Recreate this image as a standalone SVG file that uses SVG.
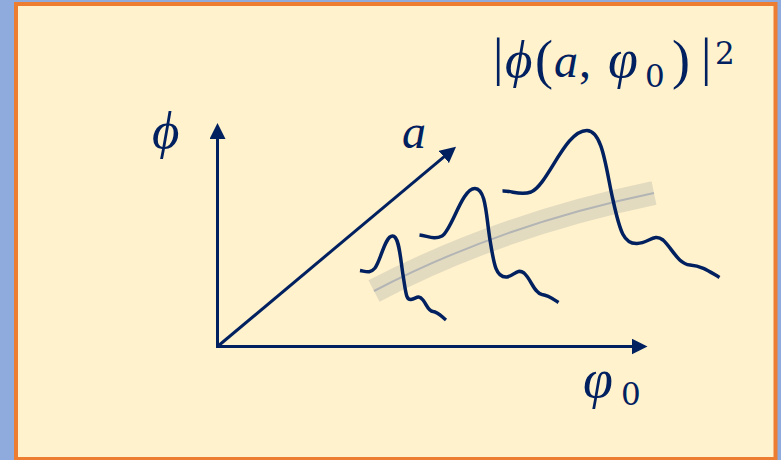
<svg xmlns="http://www.w3.org/2000/svg" width="781" height="460" viewBox="0 0 781 460">
  <style>
    .ax { stroke: #002060; stroke-width: 3; fill: none; }
    .wave { stroke: #002060; stroke-width: 3.5; fill: none; stroke-linejoin: round; }
    .var { font-family: "Liberation Serif", serif; font-style: italic; fill: #002060; font-size: 48px; }
    .big { font-size: 53px; }
    .vphi { font-size: 54px; }
    .up { font-family: "Liberation Serif", serif; fill: #002060; }
    .dig { font-family: "DejaVu Serif", "Liberation Serif", serif; fill: #002060; font-size: 31px; }
  </style>
  <defs>
    <marker id="arr" markerUnits="userSpaceOnUse" markerWidth="16" markerHeight="16" refX="8" refY="8" orient="auto" viewBox="0 0 16 16">
      <path d="M0,0 L16,8 L0,16 z" fill="#002060"/>
    </marker>
  </defs>
  <rect x="0" y="0" width="781" height="460" fill="#8faadc"/>
  <rect x="16" y="4" width="759.5" height="455" fill="#fff2cc" stroke="#ed7d31" stroke-width="4"/>

  <g id="band">
    <path d="M374,291 Q500,225 654,193" stroke="#e3dbc0" stroke-width="24" fill="none"/>
    <path d="M374,291 Q500,225 654,193" stroke="#b3b5b5" stroke-width="2" fill="none"/>
  </g>

  <g id="axes">
    <line class="ax" x1="217.5" y1="348" x2="217.5" y2="131" marker-end="url(#arr)"/>
    <line class="ax" x1="216" y1="346.5" x2="639.5" y2="346.5" marker-end="url(#arr)"/>
    <line class="ax" x1="217.5" y1="346.5" x2="449.9" y2="151.8" marker-end="url(#arr)"/>
  </g>

  <g id="packet1">
    <path class="wave" d="M360,270.5 C366,271.5 370,274 375,268 C381,260 385,236 392.5,236 C399,236 400,255 403,275 C406,293 406,300 411,299.5 C416,299 418,294 423,300 C427,305 428,311 433,311.5 C438,312 441,316 446,320"/>
  </g>
  <g id="packet2">
    <path class="wave" d="M419.5,235 C428,236 434,240 442,236 C452,230 462,188 475,188.5 C486,189 486,215 490,240 C494,265 496,278 507,277 C514,276 517,268 524,273 C531,279 534,293 542,294.5 C549,295.5 553,299 558.5,302.5"/>
  </g>
  <g id="packet3">
    <path class="wave" d="M502.5,191 C512,190.5 520,196 531,192 C548,185 565,130 587,130.5 C603,131 606,170 613,200 C620,232 624,244 637,243.5 C649,243 654,233 663,240 C672,248 678,264 690,265 C703,266 710,272 719.5,277.5"/>
  </g>

  <g id="label-phi">
    <text class="var big" x="152" y="148">ϕ</text>
  </g>
  <g id="label-a">
    <text class="var" x="402" y="148">a</text>
  </g>
  <g id="label-phi0">
    <text class="var vphi" x="583" y="397">φ</text>
    <text class="dig" x="621" y="405">0</text>
  </g>
  <g id="title">
    <text class="up" x="493" y="75" font-size="52">|</text>
    <text class="var big" x="505" y="77">ϕ</text>
    <text class="up" x="535" y="78" font-size="54">(</text>
    <text class="var" x="554" y="77">a</text>
    <text class="up" x="579" y="77" font-size="48">,</text>
    <text class="var vphi" x="608" y="77">φ</text>
    <text class="dig" x="645" y="87">0</text>
    <text class="up" x="672" y="78" font-size="54">)</text>
    <text class="up" x="701" y="75" font-size="52">|</text>
    <text class="dig" x="715" y="64" font-size="29">2</text>
  </g>
</svg>
